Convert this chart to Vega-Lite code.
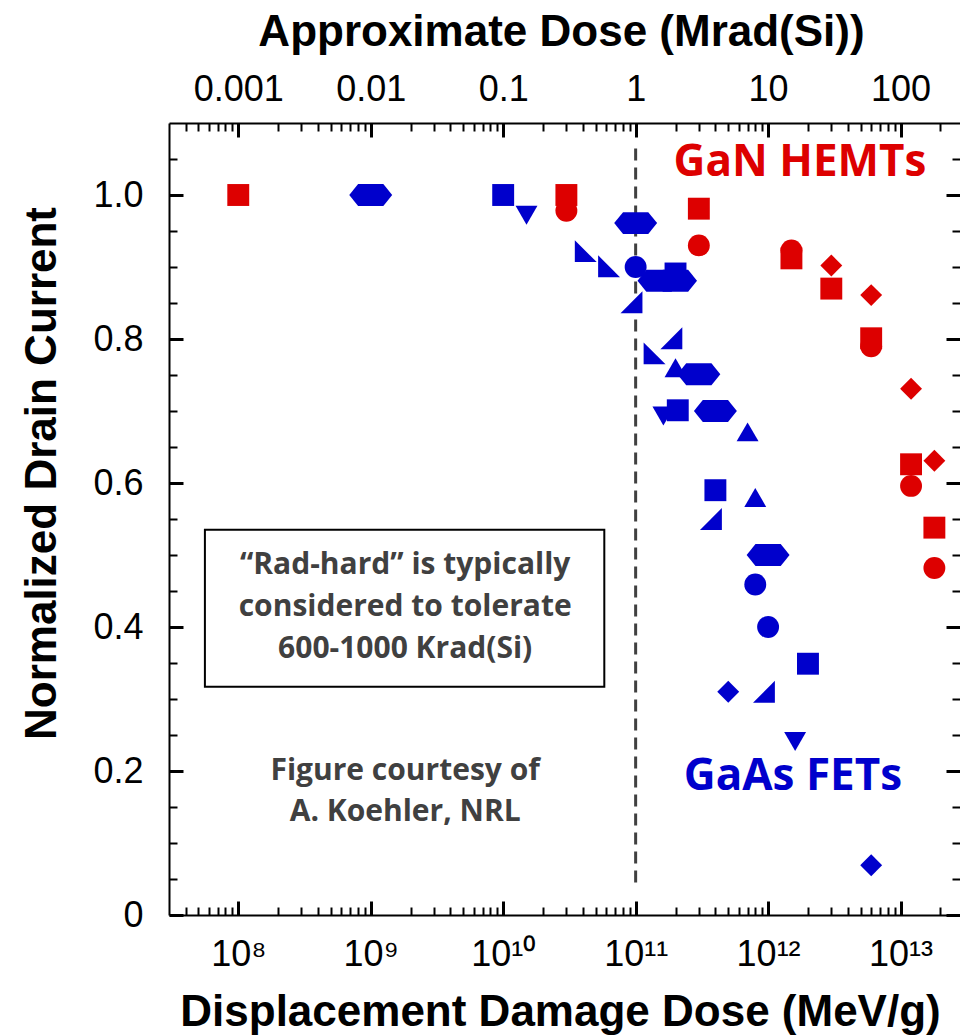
{
  "$schema": "https://vega.github.io/schema/vega-lite/v6.json",
  "autosize": "none",
  "width": 791,
  "height": 792,
  "padding": {"left": 169, "top": 123, "right": 0, "bottom": 121},
  "background": "white",
  "config": {
    "view": {"stroke": null},
    "axis": {
      "grid": false,
      "domainColor": "black",
      "domainWidth": 2,
      "tickColor": "black",
      "labelFont": "Liberation Sans",
      "labelFontSize": 36,
      "labelColor": "black",
      "titleFont": "Liberation Sans",
      "titleFontSize": 44,
      "titleFontWeight": "bold",
      "titleColor": "black"
    }
  },
  "datasets": {
    "devices": [
      {"family": "GaN", "marker": "square", "dose": 1e8, "current": 1.0},
      {"family": "GaN", "marker": "square", "dose": 3e10, "current": 1.0},
      {"family": "GaN", "marker": "circle", "dose": 3e10, "current": 0.978},
      {"family": "GaN", "marker": "square", "dose": 3e11, "current": 0.981},
      {"family": "GaN", "marker": "circle", "dose": 3e11, "current": 0.93},
      {"family": "GaN", "marker": "circle", "dose": 1.5e12, "current": 0.923},
      {"family": "GaN", "marker": "square", "dose": 1.5e12, "current": 0.912},
      {"family": "GaN", "marker": "diamond", "dose": 3e12, "current": 0.902},
      {"family": "GaN", "marker": "square", "dose": 3e12, "current": 0.87},
      {"family": "GaN", "marker": "diamond", "dose": 6e12, "current": 0.861},
      {"family": "GaN", "marker": "square", "dose": 6e12, "current": 0.801},
      {"family": "GaN", "marker": "circle", "dose": 6e12, "current": 0.79},
      {"family": "GaN", "marker": "diamond", "dose": 1.2e13, "current": 0.731},
      {"family": "GaN", "marker": "square", "dose": 1.2e13, "current": 0.626},
      {"family": "GaN", "marker": "circle", "dose": 1.2e13, "current": 0.596},
      {"family": "GaN", "marker": "diamond", "dose": 1.8e13, "current": 0.631},
      {"family": "GaN", "marker": "square", "dose": 1.8e13, "current": 0.538},
      {"family": "GaN", "marker": "circle", "dose": 1.8e13, "current": 0.482},
      {"family": "GaAs", "marker": "hexagon", "dose": 1e9, "current": 1.0},
      {"family": "GaAs", "marker": "square", "dose": 1e10, "current": 1.0},
      {"family": "GaAs", "marker": "triangle-down", "dose": 1.5e10, "current": 0.972},
      {"family": "GaAs", "marker": "hexagon", "dose": 1e11, "current": 0.961},
      {"family": "GaAs", "marker": "wedge-left", "dose": 4.2e10, "current": 0.922},
      {"family": "GaAs", "marker": "wedge-left", "dose": 6.3e10, "current": 0.901},
      {"family": "GaAs", "marker": "circle", "dose": 1e11, "current": 0.9},
      {"family": "GaAs", "marker": "square", "dose": 2e11, "current": 0.891},
      {"family": "GaAs", "marker": "hexagon", "dose": 1.5e11, "current": 0.881},
      {"family": "GaAs", "marker": "hexagon", "dose": 2e11, "current": 0.881},
      {"family": "GaAs", "marker": "wedge-right", "dose": 9.3e10, "current": 0.851},
      {"family": "GaAs", "marker": "wedge-right", "dose": 1.86e11, "current": 0.801},
      {"family": "GaAs", "marker": "wedge-left", "dose": 1.39e11, "current": 0.78},
      {"family": "GaAs", "marker": "triangle-up", "dose": 2e11, "current": 0.76},
      {"family": "GaAs", "marker": "hexagon", "dose": 3e11, "current": 0.751},
      {"family": "GaAs", "marker": "triangle-down", "dose": 1.62e11, "current": 0.693},
      {"family": "GaAs", "marker": "square", "dose": 2.08e11, "current": 0.701},
      {"family": "GaAs", "marker": "hexagon", "dose": 4e11, "current": 0.7},
      {"family": "GaAs", "marker": "triangle-up", "dose": 7e11, "current": 0.671},
      {"family": "GaAs", "marker": "square", "dose": 4e11, "current": 0.59},
      {"family": "GaAs", "marker": "triangle-up", "dose": 8e11, "current": 0.58},
      {"family": "GaAs", "marker": "wedge-right", "dose": 3.7e11, "current": 0.55},
      {"family": "GaAs", "marker": "hexagon", "dose": 1e12, "current": 0.5},
      {"family": "GaAs", "marker": "circle", "dose": 8e11, "current": 0.459},
      {"family": "GaAs", "marker": "circle", "dose": 1e12, "current": 0.4},
      {"family": "GaAs", "marker": "square", "dose": 2e12, "current": 0.349},
      {"family": "GaAs", "marker": "diamond", "dose": 5e11, "current": 0.31},
      {"family": "GaAs", "marker": "wedge-right", "dose": 9.3e11, "current": 0.31},
      {"family": "GaAs", "marker": "triangle-down", "dose": 1.6e12, "current": 0.241},
      {"family": "GaAs", "marker": "diamond", "dose": 6e12, "current": 0.069}
    ],
    "threshold": [
      {"dose": 1e11, "low": 0.045, "high": 1.07}
    ],
    "callout": [
      {"left": 5.6e7, "right": 5.8e10, "top": 0.535, "bottom": 0.317}
    ],
    "families": [
      {"name": "GaN HEMTs", "family": "GaN", "dose": 1.74e12, "current": 1.044},
      {"name": "GaAs FETs", "family": "GaAs", "dose": 1.54e12, "current": 0.192}
    ],
    "notes": [
      {"line": "“Rad-hard” is typically", "dose": 1.82e9, "current": 0.486},
      {"line": "considered to tolerate", "dose": 1.82e9, "current": 0.428},
      {"line": "600-1000 Krad(Si)", "dose": 1.82e9, "current": 0.369},
      {"line": "Figure courtesy of", "dose": 1.82e9, "current": 0.2},
      {"line": "A. Koehler, NRL", "dose": 1.82e9, "current": 0.143}
    ]
  },
  "resolve": {
    "scale": {"x": "shared", "y": "shared"},
    "axis": {"x": "independent", "y": "independent"}
  },
  "layer": [
    {
      "data": {"name": "threshold"},
      "mark": {"type": "rule", "color": "#404040", "strokeWidth": 3, "strokeDash": [12, 7]},
      "encoding": {
        "x": {
          "field": "dose", "type": "quantitative",
          "scale": {"type": "log", "domain": [3e7, 2.81e13], "nice": false},
          "axis": {
            "orient": "bottom", "title": null, "labels": false, "domain": false,
            "tickSize": -8, "tickWidth": 2,
            "values": [4e7, 5e7, 6e7, 7e7, 8e7, 9e7, 2e8, 3e8, 4e8, 5e8, 6e8, 7e8, 8e8, 9e8, 2e9, 3e9, 4e9, 5e9, 6e9, 7e9, 8e9, 9e9, 2e10, 3e10, 4e10, 5e10, 6e10, 7e10, 8e10, 9e10, 2e11, 3e11, 4e11, 5e11, 6e11, 7e11, 8e11, 9e11, 2e12, 3e12, 4e12, 5e12, 6e12, 7e12, 8e12, 9e12, 2e13]
          }
        },
        "y": {
          "field": "low", "type": "quantitative",
          "scale": {"domain": [0, 1.1], "nice": false, "zero": false},
          "axis": {
            "orient": "left", "title": null, "labels": false, "domain": false,
            "tickSize": -8, "tickWidth": 2,
            "values": [0.05, 0.1, 0.15, 0.25, 0.3, 0.35, 0.45, 0.5, 0.55, 0.65, 0.7, 0.75, 0.85, 0.9, 0.95, 1.05]
          }
        },
        "y2": {"field": "high"}
      }
    },
    {
      "data": {"name": "callout"},
      "mark": {"type": "rect", "fill": "white", "fillOpacity": 0, "stroke": "black", "strokeWidth": 2},
      "encoding": {
        "x": {
          "field": "left", "type": "quantitative",
          "scale": {"type": "log", "domain": [3e7, 2.81e13], "nice": false},
          "axis": {
            "orient": "top",
            "title": "Approximate Dose (Mrad(Si))",
            "titleX": 392, "titleY": -78, "titleAlign": "center", "titleBaseline": "alphabetic",
            "values": [1e8, 1e9, 1e10, 1e11, 1e12, 1e13],
            "labelExpr": "format(datum.value / 1e11, '~g')",
            "labelBaseline": "alphabetic", "labelPadding": 37,
            "tickSize": -14, "tickWidth": 3
          }
        },
        "x2": {"field": "right"},
        "y": {
          "field": "top", "type": "quantitative",
          "scale": {"domain": [0, 1.1], "nice": false, "zero": false},
          "axis": {
            "orient": "right", "title": null, "labels": false, "domain": false,
            "values": [0, 0.2, 0.4, 0.6, 0.8, 1.0],
            "tickSize": -14, "tickWidth": 3
          }
        },
        "y2": {"field": "bottom"}
      }
    },
    {
      "data": {"name": "devices"},
      "mark": {"type": "point", "filled": true, "opacity": 1, "size": 480, "strokeWidth": 0},
      "encoding": {
        "x": {
          "field": "dose", "type": "quantitative",
          "scale": {"type": "log", "domain": [3e7, 2.81e13], "nice": false},
          "axis": {
            "orient": "bottom",
            "title": "Displacement Damage Dose (MeV/g)",
            "titleX": 391, "titleY": 110, "titleAlign": "center", "titleBaseline": "alphabetic",
            "values": [1e8, 1e9, 1e10, 1e11, 1e12, 1e13],
            "labelExpr": "['10⁸', '10⁹', '10¹⁰', '10¹¹', '10¹²', '10¹³'][round(log(datum.value) / LN10) - 8]",
            "labelBaseline": "alphabetic", "labelPadding": 64,
            "tickSize": -14, "tickWidth": 3
          }
        },
        "y": {
          "field": "current", "type": "quantitative",
          "scale": {"domain": [0, 1.1], "nice": false, "zero": false},
          "axis": {
            "orient": "left",
            "title": "Normalized Drain Current",
            "titleX": -114, "titleY": 350, "titleAlign": "center", "titleBaseline": "alphabetic", "titleAngle": 270,
            "values": [0, 0.2, 0.4, 0.6, 0.8, 1.0],
            "labelExpr": "datum.value == 0 ? '0' : format(datum.value, '.1f')",
            "labelBaseline": "middle", "labelPadding": 40,
            "tickSize": -14, "tickWidth": 3
          }
        },
        "color": {
          "field": "family", "type": "nominal",
          "scale": {"domain": ["GaN", "GaAs"], "range": ["#DD0000", "#0000CC"]},
          "legend": null
        },
        "shape": {
          "field": "marker", "type": "nominal",
          "scale": {
            "domain": ["square", "circle", "diamond", "triangle-up", "triangle-down", "hexagon", "wedge-left", "wedge-right"],
            "range": ["square", "circle", "diamond", "triangle-up", "triangle-down", "M-1.96,0L-1.15,-1L1.15,-1L1.96,0L1.15,1L-1.15,1Z", "M-1,-1L-1,1L1,1Z", "M1,-1L1,1L-1,1Z"]
          },
          "legend": null
        }
      }
    },
    {
      "data": {"name": "families"},
      "mark": {"type": "text", "font": "Open Sans", "fontWeight": "bold", "fontSize": 44, "align": "center", "baseline": "middle"},
      "encoding": {
        "x": {
          "field": "dose", "type": "quantitative",
          "scale": {"type": "log", "domain": [3e7, 2.81e13], "nice": false},
          "axis": {
            "orient": "top", "title": null, "labels": false, "domain": false,
            "tickSize": -8, "tickWidth": 2,
            "values": [4e7, 5e7, 6e7, 7e7, 8e7, 9e7, 2e8, 3e8, 4e8, 5e8, 6e8, 7e8, 8e8, 9e8, 2e9, 3e9, 4e9, 5e9, 6e9, 7e9, 8e9, 9e9, 2e10, 3e10, 4e10, 5e10, 6e10, 7e10, 8e10, 9e10, 2e11, 3e11, 4e11, 5e11, 6e11, 7e11, 8e11, 9e11, 2e12, 3e12, 4e12, 5e12, 6e12, 7e12, 8e12, 9e12, 2e13]
          }
        },
        "y": {
          "field": "current", "type": "quantitative",
          "scale": {"domain": [0, 1.1], "nice": false, "zero": false},
          "axis": {
            "orient": "right", "title": null, "labels": false, "domain": false,
            "tickSize": -8, "tickWidth": 2,
            "values": [0.05, 0.1, 0.15, 0.25, 0.3, 0.35, 0.45, 0.5, 0.55, 0.65, 0.7, 0.75, 0.85, 0.9, 0.95, 1.05]
          }
        },
        "text": {"field": "name"},
        "color": {
          "field": "family", "type": "nominal",
          "scale": {"domain": ["GaN", "GaAs"], "range": ["#FF0000", "#0000EE"]},
          "legend": null
        }
      }
    },
    {
      "data": {"name": "notes"},
      "mark": {"type": "text", "font": "Open Sans", "fontWeight": "bold", "fontSize": 30, "align": "center", "baseline": "middle", "color": "#404040"},
      "encoding": {
        "x": {"field": "dose", "type": "quantitative", "scale": {"type": "log", "domain": [3e7, 2.81e13], "nice": false}, "axis": null},
        "y": {"field": "current", "type": "quantitative", "scale": {"domain": [0, 1.1], "nice": false, "zero": false}, "axis": null},
        "text": {"field": "line"}
      }
    }
  ]
}
